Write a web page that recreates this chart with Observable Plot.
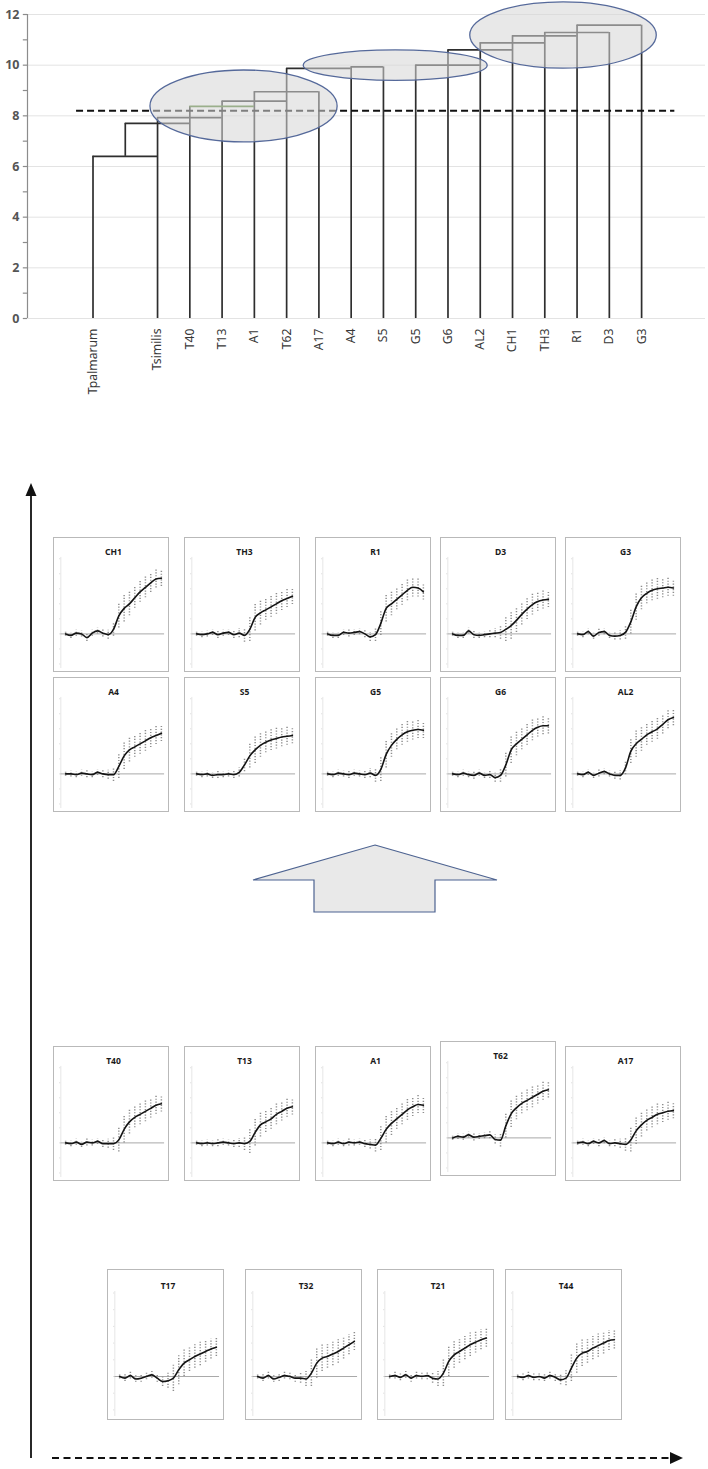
<!DOCTYPE html>
<html><head><meta charset="utf-8">
<script src="https://cdn.jsdelivr.net/npm/d3@7"></script>
<script src="https://cdn.jsdelivr.net/npm/@observablehq/plot@0.6"></script>
<style>
body{margin:0;background:#fff;}
#root{position:relative;width:708px;height:1469px;font-family:"Noto Sans",sans-serif;overflow:hidden;}
.abs{position:absolute;}
.box{position:absolute;border:1px solid #b9b9b9;background:#fff;}
</style></head><body><div id="root"></div>
<script>
// ---------------- DATA ----------------
// Dendrogram leaves (index = position on the axis; index 1 is an empty slot)
const leafNames = ["Tpalmarum","","Tsimilis","T40","T13","A1","T62","A17","A4","S5","G5","G6","AL2","CH1","TH3","R1","D3","G3"];
// height of each leaf's vertical line
const leafTops = [6.4,null,7.93,8.37,8.58,8.95,9.87,8.95,9.93,9.93,10.0,10.6,10.88,11.16,11.29,11.58,11.29,11.58];
// horizontal joins: [from index, to index, height]
const joins = [[0,2,6.4],[1,3,7.7],[2,4,7.93],[3,5,8.37],[4,6,8.58],[5,7,8.95],[6,8,9.87],[8,9,9.93],[10,12,10.0],[11,13,10.6],[12,14,10.88],[13,15,11.16],[14,16,11.29],[15,17,11.58]];
// stems rising from a join midpoint: [index, from, to]
const stems = [[1,6.4,7.7]];
const cutHeight = 8.2;
const yTicks = [0,2,4,6,8,10,12];
const yMinorTicks = [0,1,2,3,4,5,6,7,8,9,10,11,12];
// highlighted clusters (centre index, centre height, radius in index units, radius in height units)
const clusters = [[4.68,8.37,2.9,1.42],[9.38,9.98,2.85,0.6],[14.58,11.17,2.89,1.31]];

// growth curves (19 time points each)
const timePoints = [0,1,2,3,4,5,6,7,8,9,10,11,12,13,14,15,16,17,18];
const CH1 = [0,-0.1,0.05,0,-0.25,0.05,0.2,0.05,-0.05,0.3,1.2,1.7,2.0,2.4,2.8,3.1,3.4,3.65,3.7];
const TH3 = [0,-0.05,0,0.1,-0.05,0.05,0.1,-0.05,0.05,-0.1,0.3,1.1,1.4,1.6,1.8,2.0,2.2,2.35,2.5];
const R1  = [0,-0.1,-0.1,0.1,0.05,0.1,0.15,0,-0.2,-0.05,0.7,1.7,2.0,2.3,2.6,2.9,3.1,3.05,2.8];
const D3  = [0,-0.1,-0.1,0.2,-0.05,-0.1,-0.05,0,0.05,0.1,0.3,0.55,0.9,1.3,1.65,1.95,2.15,2.25,2.3];
const G3  = [0,-0.05,0.15,-0.15,0.1,0.15,-0.1,-0.15,-0.1,0.1,0.8,1.8,2.4,2.7,2.9,3.0,3.05,3.1,3.05];
const A4  = [0,0,-0.05,0.05,0,-0.05,0.1,0,-0.05,-0.05,0.5,1.2,1.6,1.8,2.0,2.2,2.4,2.55,2.7];
const S5  = [0,-0.05,0,-0.1,-0.05,-0.05,0,-0.05,0.1,0.6,1.2,1.6,1.9,2.1,2.25,2.35,2.45,2.5,2.55];
const G5  = [0,-0.05,0.05,0,-0.05,0.05,0,-0.05,0.05,-0.1,0.3,1.3,1.9,2.3,2.6,2.8,2.9,2.95,2.9];
const G6  = [0,-0.05,0.05,-0.05,-0.1,0.05,-0.1,-0.05,-0.25,-0.1,0.6,1.6,2.0,2.3,2.6,2.9,3.1,3.2,3.2];
const AL2 = [0,-0.05,0.1,-0.1,0.05,0.15,0,-0.1,-0.1,0.4,1.5,2.0,2.3,2.6,2.8,3.0,3.3,3.6,3.75];
const T40 = [0,-0.05,0.05,-0.1,0.05,0,0.1,-0.05,-0.05,-0.05,0.2,0.9,1.4,1.7,1.9,2.1,2.3,2.5,2.6];
const T13 = [0,-0.05,0,-0.05,0,0.05,0,-0.05,0,-0.05,0.1,0.7,1.2,1.4,1.6,1.9,2.1,2.3,2.4];
const A1  = [0,-0.05,0.05,-0.05,0.05,0,0.05,-0.05,-0.1,-0.15,0.3,0.9,1.3,1.6,1.9,2.2,2.4,2.55,2.5];
const T62 = [0,0.1,0.05,0.2,0.05,0.1,0.15,0.2,-0.1,-0.15,0.8,1.6,2.0,2.3,2.5,2.7,2.9,3.1,3.2];
const A17 = [0,0.05,-0.05,0.1,0,0.15,-0.05,0,-0.05,-0.1,0.2,0.8,1.2,1.5,1.7,1.9,2.0,2.1,2.15];
const T17 = [0,-0.1,0.05,-0.15,-0.1,0,0.1,-0.1,-0.3,-0.25,-0.1,0.4,0.8,1.0,1.2,1.35,1.5,1.65,1.75];
const T32 = [0,-0.1,0.05,-0.15,-0.05,0.05,0,-0.1,-0.1,-0.15,0.2,0.8,1.1,1.2,1.35,1.5,1.7,1.9,2.1];
const T21 = [0,0.05,-0.05,0.1,-0.1,0.05,0,0.05,-0.1,-0.15,0.2,0.9,1.3,1.5,1.7,1.9,2.05,2.2,2.3];
const T44 = [0,-0.05,0.05,-0.05,0,-0.1,0.05,-0.05,-0.2,-0.1,0.5,1.1,1.4,1.5,1.7,1.85,2.0,2.15,2.2];
// replicate spread around the mean at each time point
const spread = [0.15,0.2,0.2,0.2,0.25,0.2,0.2,0.25,0.3,0.45,0.8,0.9,0.8,0.7,0.7,0.7,0.65,0.6,0.55];
const curves = {CH1,TH3,R1,D3,G3,A4,S5,G5,G6,AL2,T40,T13,A1,T62,A17,T17,T32,T21,T44};
const panelRows = [["CH1","TH3","R1","D3","G3"],["A4","S5","G5","G6","AL2"],["T40","T13","A1","T62","A17"],["T17","T32","T21","T44"]];

// ---------------- LAYOUT ----------------
const root = document.getElementById("root");
const X0 = -2.03, X1 = 18.98;

// ---------------- DENDROGRAM ----------------
const leafData = leafNames.map((n,i)=>({i,n,top:leafTops[i]}));
const dendro = Plot.plot({
  width: 708, height: 400, marginTop: 14, marginBottom: 82, marginLeft: 27, marginRight: 3,
  x: {domain: [X0, X1], axis: null},
  y: {domain: [0, 12], axis: null},
  style: {overflow: "visible", fontFamily: "Noto Sans, sans-serif", background: "transparent"},
  marks: [
    Plot.ruleY(yTicks, {stroke: "#e3e3e3", strokeWidth: 1}),
    Plot.ruleX([X0], {y1: 0, y2: 12, stroke: "#8c8c8c", strokeWidth: 1.2}),
    Plot.ruleY(yMinorTicks, {x1: X0 - 0.13, x2: X0, stroke: "#8c8c8c", strokeWidth: 1.2}),
    Plot.text(yTicks, {x: X0, y: d=>d, text: d=>String(d), textAnchor: "end", dx: -8, fontWeight: "bold", fontSize: 12.5, fill: "#555"}),
    Plot.ruleX(leafData.filter(d=>d.top!=null), {x: "i", y1: 0, y2: "top", stroke: "#2e2e2e", strokeWidth: 1.7}),
    Plot.ruleX(stems, {x: d=>d[0], y1: d=>d[1], y2: d=>d[2], stroke: "#2e2e2e", strokeWidth: 1.7}),
    Plot.ruleY(joins, {x1: d=>d[0], x2: d=>d[1], y: d=>d[2], stroke: d=>d[0]===3?"#4f7d2c":"#2e2e2e", strokeWidth: 1.7}),
    Plot.ruleY([cutHeight], {x1: -0.51, x2: 18.03, stroke: "#111", strokeWidth: 2, strokeDasharray: "7 4"}),
    Plot.text(leafData.filter(d=>d.n), {x: "i", y: 0, text: "n", rotate: -90, textAnchor: "end", fontSize: 12.2, fill: "#383838"})
  ]
});
dendro.classList.add("abs");
dendro.style.left = "0px"; dendro.style.top = "0px";
root.appendChild(dendro);
// shift rotated labels below the axis
d3.select(dendro).selectAll("text").filter(function(){return (this.getAttribute("transform")||"").includes("rotate");})
  .attr("transform", function(){return this.getAttribute("transform").replace("rotate(-90)","translate(0,10) rotate(-90)");});
{
  const sx = dendro.scale("x"), sy = dendro.scale("y");
  const g = d3.select(dendro).append("g");
  for (const [cx,cy,rx,ry] of clusters) {
    g.append("ellipse")
      .attr("cx", sx.apply(cx)).attr("cy", sy.apply(cy))
      .attr("rx", sx.apply(cx+rx)-sx.apply(cx)).attr("ry", sy.apply(cy)-sy.apply(cy+ry))
      .attr("fill", "rgba(214,214,214,0.56)").attr("stroke", "#55699a").attr("stroke-width", 1.3);
  }
}

// ---------------- PANELS ----------------
function makePanel(name, w, h, k) {
  const vals = curves[name];
  const rows = timePoints.map((t,i)=>({t, v: vals[i], s: spread[i]}));
  const mt = 21*k, mb = 3, unit = 16.7*k, base = 106*k;
  const ymax = (base - mt)/unit, ymin = -(h - mb - base)/unit;
  return Plot.plot({
    width: w, height: h, marginTop: mt, marginBottom: mb, marginLeft: 9, marginRight: 5,
    x: {domain: [-0.4, 18.4], axis: null},
    y: {domain: [ymin, ymax], axis: null},
    style: {overflow: "visible", fontFamily: "Noto Sans, sans-serif", background: "transparent"},
    marks: [
      Plot.ruleX([-0.9], {y1: ymin, y2: ymax, stroke: "#e6e6e6"}),
      Plot.ruleY([-2,-1,0,1,2,3,4,5].filter(v=>v<=ymax && v>=ymin), {x1: -1.15, x2: -0.9, stroke: "#e2e2e2"}),
      Plot.ruleY([0], {x1: -0.9, x2: 18.6, stroke: "#a9a9a9", strokeWidth: 1}),
      Plot.ruleX(rows, {x: "t", y1: d=>d.v - d.s, y2: d=>d.v + d.s, stroke: "#8e8e8e", strokeWidth: 1.5, strokeDasharray: "1.2 1.6"}),
      Plot.line(rows, {x: "t", y: "v", stroke: "#141414", strokeWidth: 1.6, curve: "monotone-x"}),
      Plot.text([name], {frameAnchor: "top", dy: -mt + 12*k, text: d=>d, fontWeight: "bold", fontSize: 8.5, fill: "#1a1a1a"})
    ]
  });
}
const rowLayout = [
  {top: 537, h: 135, w: 116, k: 0.9, lefts: [53,184,315,440,565], tops: [0,0,0,0,0]},
  {top: 677, h: 135, w: 116, k: 0.9, lefts: [53,184,315,440,565], tops: [0,0,0,0,0]},
  {top: 1046, h: 135, w: 116, k: 0.9, lefts: [53,184,315,440,565], tops: [0,0,0,-5,0]},
  {top: 1269, h: 151, w: 117, k: 1, lefts: [107,245,377,505], tops: [0,0,0,0]}
];
panelRows.forEach((names, r) => {
  const L = rowLayout[r];
  names.forEach((n, k) => {
    const div = document.createElement("div");
    div.className = "box";
    div.style.left = L.lefts[k] + "px";
    div.style.top = (L.top + L.tops[k]) + "px";
    div.style.width = (L.w - 2) + "px";
    div.style.height = (L.h - 2) + "px";
    const p = makePanel(n, L.w - 2, L.h - 2, L.k);
    p.style.display = "block";
    div.appendChild(p);
    root.appendChild(div);
  });
});

// ---------------- DECORATIVE ARROWS ----------------
const svg = d3.select(root).append("svg").attr("class","abs").attr("width",708).attr("height",1469)
  .style("left","0px").style("top","0px").style("pointer-events","none");
svg.append("line").attr("x1",31).attr("x2",31).attr("y1",1458).attr("y2",494).attr("stroke","#111").attr("stroke-width",1.8);
svg.append("path").attr("d","M31,483 L25.5,496 L36.5,496 Z").attr("fill","#111");
svg.append("line").attr("x1",52).attr("x2",670).attr("y1",1458).attr("y2",1458).attr("stroke","#111").attr("stroke-width",2).attr("stroke-dasharray","7 4.5");
svg.append("path").attr("d","M683,1458 L670,1452 L670,1464 Z").attr("fill","#111");
svg.append("path").attr("d","M375,845 L497,880 L435,880 L435,912 L314,912 L314,880 L253,880 Z")
  .attr("fill","#e9e9e9").attr("stroke","#4d6391").attr("stroke-width",1.2);
</script></body></html>
